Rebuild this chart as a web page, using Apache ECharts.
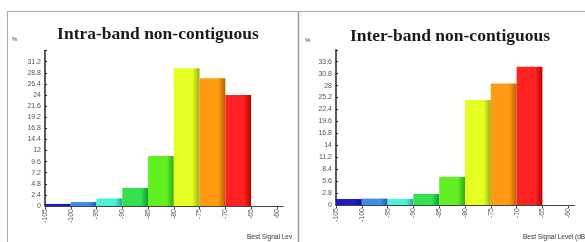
<!DOCTYPE html>
<html>
<head>
<meta charset="utf-8">
<script src="https://cdn.jsdelivr.net/npm/echarts@6/dist/echarts.min.js"></script>
<style>
  html, body { margin: 0; padding: 0; background: #fff; }
  #chart { width: 585px; height: 242px; }
</style>
</head>
<body>
<div id="chart"></div>
<script>
// bins of best signal level (dBm), each 5 dB wide, given by their start
const binStarts = [-105, -100, -95, -90, -85, -80, -75, -70];
const binWidth = 5;
const intraValues = [0.45, 0.85, 1.65, 3.9, 10.8, 29.8, 27.6, 24.0];
const interValues = [1.4, 1.5, 1.4, 2.6, 6.6, 24.6, 28.5, 32.4];
const titles = ['Intra-band non-contiguous', 'Inter-band non-contiguous'];
const xLabel = 'Best Signal Level (dBm)';

const barColors = ['#1c1cc8', '#3a8ee6', '#4ef0d6', '#34e052', '#62f022', '#e6ff22', '#ff9a12', '#ff2222'];
const barShades = ['#0c0c88', '#1a5aa8', '#1fa898', '#129a32', '#2ea812', '#9aae10', '#b85e00', '#b80000'];

const chart = echarts.init(document.getElementById('chart'));

function renderBar(params, api) {
  const x0 = api.value(0);
  const v = api.value(1);
  const p0 = api.coord([x0, v]);
  const p1 = api.coord([x0 + binWidth, 0]);
  const i = params.dataIndex;
  return {
    type: 'rect',
    shape: { x: p0[0], y: p0[1], width: p1[0] - p0[0], height: p1[1] - p0[1] },
    style: {
      fill: new echarts.graphic.LinearGradient(0, 0, 1, 0, [
        { offset: 0, color: barColors[i] },
        { offset: 0.72, color: barColors[i] },
        { offset: 1, color: barShades[i] }
      ])
    }
  };
}

const axisFont = { fontFamily: 'Liberation Sans Narrow, Liberation Sans, sans-serif', fontSize: 7, color: '#555' };
const titleFont = { fontFamily: 'Liberation Serif, serif', fontWeight: 'bold', fontSize: 17.5, color: '#1a1a1a' };
const nameFont = { fontSize: 6.5, fill: '#333', fontFamily: 'Liberation Sans Narrow, Liberation Sans, sans-serif' };

function xAxisFor(idx) {
  return {
    type: 'value',
    gridIndex: idx,
    min: -105,
    max: -58.8,
    interval: 5,
    splitLine: { show: false },
    axisLine: { lineStyle: { color: '#444', width: 1 } },
    axisTick: { length: 3, lineStyle: { color: '#444' } },
    axisLabel: Object.assign({ rotate: 90, margin: 3, showMaxLabel: false }, axisFont)
  };
}

function yAxisFor(idx, step, max) {
  return {
    type: 'value',
    gridIndex: idx,
    min: 0,
    max: max,
    interval: step,
    splitLine: { show: false },
    axisLine: { show: true, lineStyle: { color: '#222', width: 1.5 } },
    axisTick: { show: true, inside: true, length: 2, lineStyle: { color: '#222' } },
    axisLabel: Object.assign({
      margin: 4,
      formatter: (val) => (Math.abs(val - max) < 1e-6 ? '' : String(Math.round(val * 10) / 10))
    }, axisFont)
  };
}

const option = {
  animation: false,
  backgroundColor: '#fff',
  grid: [
    { left: 45, top: 50.6, width: 238, bottom: 36 },
    { left: 336, top: 49.8, width: 238.4, bottom: 37 }
  ],
  xAxis: [xAxisFor(0), xAxisFor(1)],
  yAxis: [yAxisFor(0, 2.4, 33.6), yAxisFor(1, 2.8, 36.4)],
  title: [
    { text: titles[0], left: 153, top: 20, textAlign: 'center', textStyle: titleFont },
    { text: titles[1], left: 445, top: 22, textAlign: 'center', textStyle: titleFont }
  ],
  graphic: [
    // panel borders
    { type: 'line', shape: { x1: 7, y1: 11.5, x2: 298, y2: 11.5 }, style: { stroke: '#aaa', lineWidth: 1 } },
    { type: 'line', shape: { x1: 7.5, y1: 11, x2: 7.5, y2: 242 }, style: { stroke: '#aaa', lineWidth: 1 } },
    { type: 'line', shape: { x1: 298.5, y1: 11, x2: 298.5, y2: 242 }, style: { stroke: '#999', lineWidth: 1.5 } },
    { type: 'line', shape: { x1: 298, y1: 11.5, x2: 585, y2: 11.5 }, style: { stroke: '#aaa', lineWidth: 1 } },
    // unit markers
    { type: 'text', left: 12, top: 36, style: { text: '%', fontSize: 6, fill: '#444', fontFamily: 'Liberation Sans, sans-serif' } },
    { type: 'text', left: 305, top: 37, style: { text: '%', fontSize: 6, fill: '#444', fontFamily: 'Liberation Sans, sans-serif' } },
    // x axis names
    {
      type: 'text', left: 247, top: 234,
      style: Object.assign({ text: xLabel, width: 48, overflow: 'truncate', ellipsis: '' }, nameFont)
    },
    {
      type: 'text', left: 523, top: 234,
      style: Object.assign({ text: xLabel }, nameFont)
    }
  ],
  series: [
    {
      type: 'custom',
      xAxisIndex: 0,
      yAxisIndex: 0,
      renderItem: renderBar,
      encode: { x: 0, y: 1 },
      data: binStarts.map((b, i) => [b, intraValues[i]])
    },
    {
      type: 'custom',
      xAxisIndex: 1,
      yAxisIndex: 1,
      renderItem: renderBar,
      encode: { x: 0, y: 1 },
      data: binStarts.map((b, i) => [b, interValues[i]])
    }
  ]
};

chart.setOption(option);
</script>
</body>
</html>
